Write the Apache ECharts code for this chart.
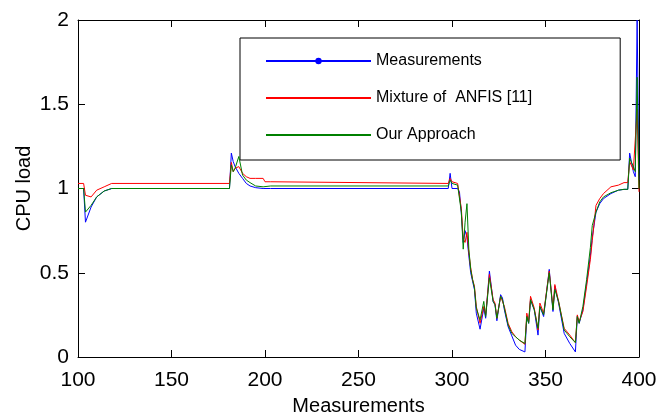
<!DOCTYPE html>
<html>
<head>
<meta charset="utf-8">
<script src="https://cdn.jsdelivr.net/npm/echarts@6/dist/echarts.min.js"></script>
<style>
  html, body { margin: 0; padding: 0; background: #fff; }
  #cpuChart { width: 672px; height: 414px; }
</style>
</head>
<body>
<div id="cpuChart"></div>
<script>
var measurementIdx = [
  100, 103, 104, 107, 110, 114, 118, 181, 182, 183, 184, 186, 188, 190, 192, 195, 199, 200, 203, 204,
  298, 299, 300, 303, 304, 305, 306, 307, 308, 309, 310, 311, 312, 313, 315, 317, 318, 320, 322, 323,
  324, 326, 327, 328, 330, 332, 334, 336, 339, 340, 341, 342, 344, 346, 347, 349, 352, 354, 355, 357,
  360, 363, 366, 367, 368, 370, 372, 374, 375, 377, 379, 381, 385, 389, 392, 394, 395, 397, 398, 399, 400
]
var measured = [
  1.00, 1.00, 0.80, 0.89, 0.95, 0.985, 1.00, 1.00, 1.21, 1.16, 1.13, 1.09, 1.06, 1.03, 1.015, 1.005, 1.00, 1.00, 1.00, 1.00,
  1.00, 1.09, 1.00, 1.00, 0.98, 0.85, 0.68, 0.75, 0.71, 0.60, 0.50, 0.45, 0.40, 0.26, 0.165, 0.29, 0.23, 0.51, 0.33, 0.31,
  0.215, 0.37, 0.35, 0.28, 0.18, 0.125, 0.07, 0.045, 0.03, 0.24, 0.20, 0.34, 0.28, 0.13, 0.30, 0.24, 0.52, 0.27, 0.42, 0.32,
  0.14, 0.08, 0.03, 0.24, 0.20, 0.28, 0.44, 0.60, 0.71, 0.86, 0.91, 0.94, 0.97, 0.99, 0.995, 0.995, 1.21, 1.10, 1.07, 2.00, 1.05
]
var anfisMixture = [
  1.03, 1.03, 0.96, 0.95, 0.99, 1.01, 1.03, 1.03, 1.155, 1.10, 1.12, 1.13, 1.09, 1.07, 1.06, 1.06, 1.06, 1.04, 1.04, 1.03,
  1.03, 1.06, 1.04, 1.03, 1.02, 0.88, 0.70, 0.68, 0.74, 0.62, 0.53, 0.46, 0.42, 0.30, 0.20, 0.30, 0.25, 0.49, 0.34, 0.32,
  0.23, 0.36, 0.35, 0.30, 0.20, 0.15, 0.12, 0.10, 0.075, 0.26, 0.21, 0.36, 0.29, 0.16, 0.32, 0.26, 0.51, 0.29, 0.43, 0.33,
  0.17, 0.13, 0.085, 0.25, 0.21, 0.27, 0.42, 0.58, 0.69, 0.90, 0.94, 0.97, 1.01, 1.02, 1.035, 1.035, 1.16, 1.11, 1.10, 1.47, 0.98
]
var ourApproach = [
  1.00, 1.00, 0.86, 0.90, 0.95, 0.985, 1.00, 1.00, 1.14, 1.10, 1.12, 1.19, 1.08, 1.05, 1.035, 1.015, 1.01, 1.01, 1.015, 1.015,
  1.015, 1.05, 1.03, 1.02, 1.01, 0.86, 0.64, 0.80, 0.91, 0.64, 0.52, 0.46, 0.41, 0.29, 0.22, 0.33, 0.24, 0.47, 0.33, 0.31,
  0.23, 0.36, 0.34, 0.29, 0.19, 0.14, 0.12, 0.10, 0.08, 0.24, 0.20, 0.34, 0.28, 0.17, 0.30, 0.25, 0.50, 0.28, 0.40, 0.33,
  0.16, 0.12, 0.085, 0.24, 0.20, 0.30, 0.46, 0.65, 0.78, 0.86, 0.92, 0.95, 0.975, 0.99, 0.995, 0.995, 1.18, 1.13, 1.10, 1.66, 1.00
]
var seriesNames = ['Measurements', 'Mixture of  ANFIS [11]', 'Our Approach']
var seriesColors = ['#0000ff', '#ff0000', '#008000']

function pairs(ys) {
  return measurementIdx.map(function (x, i) { return [x, ys[i]] })
}

var font = 'Liberation Sans, Arial, Helvetica, sans-serif'

var boxAxis = {
  axisLine: { show: true, onZero: false, lineStyle: { color: '#000', width: 1 } },
  axisTick: { show: true, inside: true, length: 7, lineStyle: { color: '#000' } },
  splitLine: { show: false }
}

var option = {
  animation: false,
  backgroundColor: '#fff',
  // keep the plot box fixed, the x name is allowed to touch the bottom edge
  grid: { left: 78, right: 33, top: 20, bottom: 57, containLabel: false, outerBoundsMode: 'none' },
  legend: {
    orient: 'vertical',
    left: 240,
    top: 38,
    padding: [15, 88, 17, 25],
    itemGap: 21,
    itemWidth: 105,
    itemHeight: 8,
    borderColor: '#000',
    borderWidth: 1,
    backgroundColor: '#fff',
    textStyle: { fontFamily: font, fontSize: 16, color: '#000' },
    data: [
      { name: seriesNames[0] },
      { name: seriesNames[1], itemStyle: { opacity: 0 } },
      { name: seriesNames[2], itemStyle: { opacity: 0 } }
    ]
  },
  xAxis: [
    Object.assign({
      type: 'value', min: 100, max: 400, interval: 50, position: 'bottom',
      name: 'Measurements', nameLocation: 'middle', nameGap: 39, nameMoveOverlap: false,
      nameTextStyle: { fontFamily: font, fontSize: 20, color: '#000' },
      axisLabel: { fontFamily: font, fontSize: 21, color: '#000', margin: 13 }
    }, boxAxis),
    Object.assign({
      type: 'value', min: 100, max: 400, interval: 50, position: 'top',
      axisLabel: { show: false }
    }, boxAxis)
  ],
  yAxis: [
    Object.assign({
      type: 'value', min: 0, max: 2, interval: 0.5, position: 'left',
      name: 'CPU load', nameLocation: 'middle', nameGap: 44, nameMoveOverlap: false,
      nameTextStyle: { fontFamily: font, fontSize: 20, color: '#000' },
      axisLabel: { fontFamily: font, fontSize: 21, color: '#000', margin: 9 }
    }, boxAxis),
    Object.assign({
      type: 'value', min: 0, max: 2, interval: 0.5, position: 'right',
      axisLabel: { show: false }
    }, boxAxis)
  ],
  series: [0, 1, 2].map(function (k) {
    return {
      name: seriesNames[k],
      type: 'line',
      xAxisIndex: 0,
      yAxisIndex: 0,
      data: pairs([measured, anfisMixture, ourApproach][k]),
      symbol: k === 0 ? 'circle' : 'none',
      symbolSize: 6,
      showSymbol: false,
      color: seriesColors[k],
      lineStyle: { color: seriesColors[k], width: 1 },
      itemStyle: { color: seriesColors[k] },
      z: 2 + k
    }
  })
}

var chart = echarts.init(document.getElementById('cpuChart'), null, { renderer: 'canvas' })
chart.setOption(option)
</script>
</body>
</html>
